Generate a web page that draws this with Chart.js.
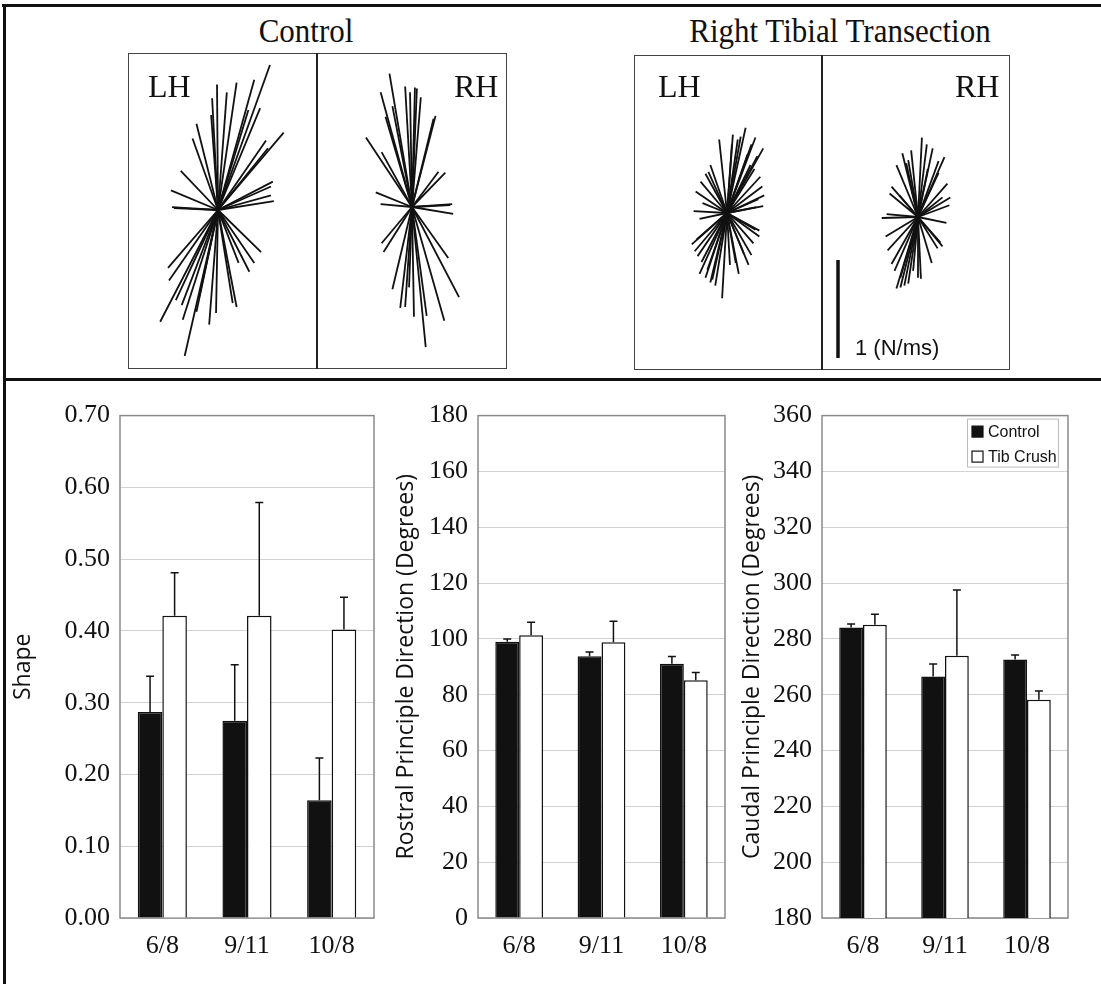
<!DOCTYPE html>
<html>
<head>
<meta charset="utf-8">
<script src="https://cdn.jsdelivr.net/npm/chart.js@4.4.1/dist/chart.umd.min.js"></script>
<style>
  html, body { margin: 0; padding: 0; background: #fff; }
  #page { position: relative; width: 1101px; height: 984px; overflow: hidden; background: #fff; }
  .rule { position: absolute; background: #111; }
  .box { position: absolute; border: 1.5px solid #444; box-sizing: border-box; }
  .split { position: absolute; width: 2px; background: #222; }
  .serif { position: absolute; white-space: nowrap; color: #111;
           font-family: "Liberation Serif", "Times New Roman", serif; }
  .title { font-size: 31px; line-height: 31px; transform: translateX(-50%) scaleY(1.1); transform-origin: 50% 100%; }
  .side { font-size: 32px; line-height: 32px; }
  canvas { position: absolute; }
</style>
</head>
<body>
<div id="page">
  <div class="rule" style="left:2px;top:4px;width:1099px;height:3px"></div>
  <div class="rule" style="left:3px;top:4px;width:3px;height:980px"></div>
  <div class="rule" style="left:3px;top:378px;width:1098px;height:3px"></div>

  <div class="serif title" style="left:306px;top:16px">Control</div>
  <div class="serif title" style="left:840px;top:16px">Right Tibial Transection</div>

  <div class="box" style="left:128px;top:53px;width:379px;height:316px"></div>
  <div class="split" style="left:316px;top:53px;height:316px"></div>
  <div class="box" style="left:634px;top:55px;width:376px;height:315px"></div>
  <div class="split" style="left:821px;top:55px;height:315px"></div>

  <canvas id="ctlLH" width="189" height="316" style="left:128px;top:53px"></canvas>
  <canvas id="ctlRH" width="190" height="316" style="left:317px;top:53px"></canvas>
  <canvas id="tibLH" width="188" height="315" style="left:634px;top:55px"></canvas>
  <canvas id="tibRH" width="188" height="315" style="left:822px;top:55px"></canvas>

  <div class="serif side" style="left:148px;top:70px">LH</div>
  <div class="serif side" style="left:454px;top:70px">RH</div>
  <div class="serif side" style="left:658px;top:70px">LH</div>
  <div class="serif side" style="left:955px;top:70px">RH</div>

  <canvas id="shape" width="372" height="585" style="left:8px;top:390px"></canvas>
  <canvas id="rostral" width="345" height="585" style="left:384px;top:390px"></canvas>
  <canvas id="caudal" width="342" height="585" style="left:730px;top:390px"></canvas>
</div>

<script>
// bar chart values (means and upper error)
const CATEGORIES = ["6/8", "9/11", "10/8"];
const SERIES_NAMES = ["Control", "Tib Crush"];

const SHAPE_CONTROL = [0.287, 0.275, 0.164];
const SHAPE_CONTROL_ERR = [0.050, 0.078, 0.059];
const SHAPE_TIB = [0.421, 0.421, 0.402];
const SHAPE_TIB_ERR = [0.060, 0.158, 0.045];

const ROSTRAL_CONTROL = [99.0, 93.8, 91.1];
const ROSTRAL_CONTROL_ERR = [1.0, 1.5, 2.6];
const ROSTRAL_TIB = [101.3, 98.8, 85.2];
const ROSTRAL_TIB_ERR = [4.7, 7.5, 2.8];

const CAUDAL_CONTROL = [284.1, 266.5, 272.6];
const CAUDAL_CONTROL_ERR = [1.2, 4.5, 1.6];
const CAUDAL_TIB = [285.1, 274.0, 258.2];
const CAUDAL_TIB_ERR = [3.7, 23.5, 3.1];

// y axis ranges: [min, max, step]
const SHAPE_TICKS = [0, 0.7, 0.1];
const ROSTRAL_TICKS = [0, 180, 20];
const CAUDAL_TICKS = [180, 360, 20];

// force vectors, [x, y] in N/ms
const CONTROL_LH = [
  [0.53, 1.48], [0.37, 1.33], [0.19, 1.30], [0.09, 1.20], [-0.01, 1.28], [-0.06, 1.14],
  [-0.07, 0.97], [0.31, 1.02], [0.43, 1.04], [-0.22, 0.88], [-0.26, 0.73], [-0.38, 0.40],
  [-0.48, 0.20], [-0.47, 0.03], [-0.45, 0.02], [0.67, 0.79], [0.49, 0.71], [0.51, 0.63],
  [0.56, 0.29], [0.54, 0.24], [0.57, 0.09], [0.54, 0.15],
  [0.44, -0.43], [0.37, -0.54], [0.32, -0.63], [0.21, -0.54], [0.19, -0.99], [0.15, -0.95],
  [-0.02, -1.05], [-0.09, -1.17], [-0.34, -1.49], [-0.59, -1.14], [-0.51, -0.59], [-0.50, -0.72],
  [-0.43, -0.92], [-0.37, -0.97], [-0.36, -1.12], [-0.22, -1.04], [-0.19, -0.88]
];
const CONTROL_RH = [
  [-0.23, 1.36], [-0.32, 1.17], [-0.20, 1.03], [-0.27, 0.92], [-0.07, 1.23], [-0.02, 1.17],
  [0.03, 1.22], [0.05, 1.21], [0.09, 1.12], [0.24, 0.93], [0.22, 0.90], [-0.47, 0.71],
  [-0.31, 0.56], [-0.37, 0.15], [-0.32, 0.03], [0.34, 0.35], [0.27, 0.36], [0.41, 0.03],
  [0.42, -0.07], [0.39, 0.02],
  [-0.31, -0.37], [-0.29, -0.46], [-0.20, -0.84], [-0.12, -1.03], [-0.07, -1.02], [0.02, -1.12],
  [0.14, -1.43], [0.15, -1.11], [0.33, -1.16], [0.48, -0.92], [0.37, -0.52], [-0.03, -0.82]
];
const TIBIAL_LH = [
  [0.19, 0.87], [0.29, 0.77], [0.37, 0.66], [-0.08, 0.75], [0.11, 0.75], [0.05, 0.70],
  [-0.17, 0.49], [-0.27, 0.32], [-0.32, 0.22], [-0.34, 0.02], [-0.28, -0.06], [0.34, 0.37],
  [0.36, 0.27], [0.37, 0.07], [0.32, 0.14], [0.24, 0.49], [0.14, 0.78], [0.06, 0.80],
  [0.21, 0.60], [0.28, 0.45], [-0.22, 0.40], [0.30, 0.06], [-0.25, 0.10],
  [0.25, 0.70], [0.31, 0.58], [-0.19, 0.42], [0.38, 0.18],
  [0.29, -0.17], [0.33, -0.24], [0.27, -0.31], [0.22, -0.53], [0.09, -0.51], [-0.05, -0.87],
  [-0.17, -0.71], [-0.20, -0.58], [-0.33, -0.39], [-0.31, -0.27], [-0.26, -0.50], [-0.15, -0.68],
  [0.03, -0.53], [0.17, -0.41], [-0.12, -0.74], [0.12, -0.62], [-0.30, -0.44],
  [-0.36, -0.32], [-0.28, -0.62], [-0.22, -0.66], [0.25, -0.43], [0.33, -0.18]
];
const TIBIAL_RH = [
  [0.04, 0.81], [0.15, 0.70], [0.27, 0.61], [-0.16, 0.65], [-0.07, 0.68], [-0.22, 0.53],
  [0.30, 0.34], [-0.27, 0.31], [-0.29, 0.24], [-0.37, -0.01], [-0.32, 0.03], [0.32, 0.12],
  [0.29, -0.06], [0.10, 0.49], [-0.19, 0.22], [0.09, 0.74], [-0.10, 0.58], [0.21, 0.45],
  [0.25, 0.20], [0.21, 0.57], [-0.12, 0.55], [0.33, 0.20],
  [-0.33, -0.20], [-0.31, -0.34], [-0.27, -0.48], [-0.22, -0.73], [-0.14, -0.70], [-0.10, -0.68],
  [0.03, -0.63], [0.14, -0.47], [0.23, -0.26], [0.20, -0.32], [-0.18, -0.62], [-0.05, -0.55],
  [-0.24, -0.55], [-0.18, -0.72], [0.25, -0.30], [0.00, -0.62]
];

const SCALE_BAR_N_MS = 1;
const SCALE_BAR_LABEL = "1 (N/ms)";

const SERIF = '"Liberation Serif", "Times New Roman", serif';
const SANS = '"Liberation Sans", Arial, sans-serif';
const PX_PER_N_MS = 98;

// star plots: one chart per box, vectors drawn from the origin
const scaleBar = {
  id: "scaleBar",
  afterDatasetsDraw(chart) {
    const { ctx, chartArea: a, scales: { y } } = chart;
    const x = a.left + 16;
    const y0 = a.bottom - 12;
    const y1 = y.getPixelForValue(y.getValueForPixel(y0) + SCALE_BAR_N_MS);
    ctx.save();
    ctx.strokeStyle = "#111";
    ctx.lineWidth = 3.5;
    ctx.beginPath();
    ctx.moveTo(x, y0);
    ctx.lineTo(x, y1);
    ctx.stroke();
    ctx.fillStyle = "#111";
    ctx.font = "22px " + SANS;
    ctx.textBaseline = "alphabetic";
    ctx.fillText(SCALE_BAR_LABEL, x + 17, a.bottom - 15);
    ctx.restore();
  },
};

function starChart(id, vectors, cx, cy, extra) {
  const canvas = document.getElementById(id);
  const W = canvas.width;
  const H = canvas.height;
  const k = PX_PER_N_MS;
  return new Chart(canvas, {
    type: "scatter",
    data: {
      datasets: vectors.map(([dx, dy]) => ({
        data: [{ x: 0, y: 0 }, { x: dx, y: dy }],
        showLine: true,
        borderColor: "#111",
        borderWidth: 1.8,
        pointRadius: 0,
      })),
    },
    options: {
      responsive: false,
      animation: false,
      layout: { padding: 0 },
      plugins: { legend: { display: false }, tooltip: { enabled: false } },
      scales: {
        x: { type: "linear", display: false, min: -cx / k, max: (W - cx) / k },
        y: { type: "linear", display: false, min: -(H - cy) / k, max: cy / k },
      },
    },
    plugins: extra ? [extra] : [],
  });
}

starChart("ctlLH", CONTROL_LH, 90, 157);
starChart("ctlRH", CONTROL_RH, 95, 154);
starChart("tibLH", TIBIAL_LH, 93, 158);
starChart("tibRH", TIBIAL_RH, 96, 162, scaleBar);

// bar charts
const frame = {
  id: "frame",
  beforeDatasetsDraw(chart) {
    const { ctx, chartArea: a } = chart;
    ctx.save();
    ctx.strokeStyle = "#8a8a8a";
    ctx.lineWidth = 1.5;
    ctx.strokeRect(a.left, a.top, a.right - a.left, a.bottom - a.top);
    ctx.restore();
  },
};

const errorBars = {
  id: "errorBars",
  afterDatasetsDraw(chart) {
    const { ctx } = chart;
    const y = chart.scales.y;
    ctx.save();
    ctx.strokeStyle = "#111";
    ctx.lineWidth = 1.5;
    chart.data.datasets.forEach((ds, i) => {
      chart.getDatasetMeta(i).data.forEach((bar, j) => {
        const top = y.getPixelForValue(ds.data[j] + ds.errorBars[j]);
        ctx.beginPath();
        ctx.moveTo(bar.x, bar.y);
        ctx.lineTo(bar.x, top);
        ctx.moveTo(bar.x - 4, top);
        ctx.lineTo(bar.x + 4, top);
        ctx.stroke();
      });
    });
    ctx.restore();
  },
};

const insideLegend = {
  id: "insideLegend",
  afterDraw(chart) {
    const { ctx, chartArea: a } = chart;
    const w = 91, h = 48;
    const left = a.right - 10 - w;
    const top = a.top + 3;
    ctx.save();
    ctx.fillStyle = "#fff";
    ctx.fillRect(left, top, w, h);
    ctx.strokeStyle = "#bdbdbd";
    ctx.lineWidth = 1;
    ctx.strokeRect(left + 0.5, top + 0.5, w, h);
    ctx.font = "16px " + SANS;
    ctx.textBaseline = "middle";
    chart.data.datasets.forEach((ds, i) => {
      const cy = top + 13 + i * 25;
      ctx.fillStyle = ds.backgroundColor;
      ctx.fillRect(left + 5, cy - 5.5, 11, 11);
      ctx.strokeStyle = "#111";
      ctx.lineWidth = 1.2;
      ctx.strokeRect(left + 5, cy - 5.5, 11, 11);
      ctx.fillStyle = "#111";
      ctx.fillText(ds.label, left + 21, cy + 1);
    });
    ctx.restore();
  },
};

function barChart(id, cfg) {
  const [min, max, step] = cfg.ticks;
  return new Chart(document.getElementById(id), {
    type: "bar",
    data: {
      labels: CATEGORIES,
      datasets: [
        {
          label: SERIES_NAMES[0],
          data: cfg.control,
          errorBars: cfg.controlErr,
          backgroundColor: "#111",
          borderColor: "#111",
          borderWidth: 1.5,
        },
        {
          label: SERIES_NAMES[1],
          data: cfg.tib,
          errorBars: cfg.tibErr,
          backgroundColor: "#fff",
          borderColor: "#111",
          borderWidth: 1.5,
        },
      ],
    },
    options: {
      responsive: false,
      animation: false,
      layout: { padding: { top: 25, right: cfg.padRight, bottom: 0, left: 0 } },
      datasets: { bar: { categoryPercentage: 0.58, barPercentage: 1.0 } },
      plugins: { legend: { display: false }, tooltip: { enabled: false } },
      scales: {
        x: {
          grid: { display: false, drawTicks: false },
          border: { display: false },
          ticks: { color: "#111", font: { family: SERIF, size: 26 }, padding: 13 },
          afterFit: (s) => { s.height = 57; },
        },
        y: {
          min: min,
          max: max,
          grid: { color: "#d2d2d2", lineWidth: 1, drawTicks: false },
          border: { display: false },
          ticks: {
            stepSize: step,
            color: "#111",
            padding: 10,
            font: { family: SERIF, size: 26 },
            callback: (v) => v.toFixed(cfg.decimals),
          },
          title: {
            display: true,
            text: cfg.title,
            color: "#111",
            font: { family: '"Open Sans", ' + SANS, size: 23 },
            padding: { top: cfg.titlePad, bottom: 0 },
          },
          afterFit: (s) => { s.width = cfg.axisWidth; },
        },
      },
    },
    plugins: cfg.legend ? [frame, errorBars, insideLegend] : [frame, errorBars],
  });
}

barChart("shape", {
  control: SHAPE_CONTROL, controlErr: SHAPE_CONTROL_ERR,
  tib: SHAPE_TIB, tibErr: SHAPE_TIB_ERR,
  ticks: SHAPE_TICKS, decimals: 2, title: "Shape",
  axisWidth: 112, padRight: 6, titlePad: 2,
});
barChart("rostral", {
  control: ROSTRAL_CONTROL, controlErr: ROSTRAL_CONTROL_ERR,
  tib: ROSTRAL_TIB, tibErr: ROSTRAL_TIB_ERR,
  ticks: ROSTRAL_TICKS, decimals: 0, title: "Rostral Principle Direction (Degrees)",
  axisWidth: 94, padRight: 4, titlePad: 9,
});
barChart("caudal", {
  control: CAUDAL_CONTROL, controlErr: CAUDAL_CONTROL_ERR,
  tib: CAUDAL_TIB, tibErr: CAUDAL_TIB_ERR,
  ticks: CAUDAL_TICKS, decimals: 0, title: "Caudal Principle Direction (Degrees)",
  axisWidth: 92, padRight: 4, titlePad: 9, legend: true,
});
</script>
</body>
</html>
